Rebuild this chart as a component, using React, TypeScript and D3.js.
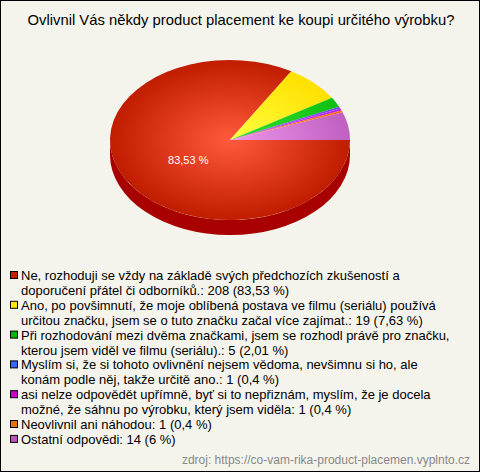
import React from "react";
import * as d3 from "d3";

const W = 480;
const H = 472;

const title = "Ovlivnil Vás někdy product placement ke koupi určitého výrobku?";
const source = "zdroj: https://co-vam-rika-product-placemen.vyplnto.cz";

const counts = [208, 19, 5, 1, 1, 1, 14];
const pctLabels = ["83,53 %", "7,63 %", "2,01 %", "0,4 %", "0,4 %", "0,4 %", "6 %"];
const legendLines: string[][] = [
  ["Ne, rozhoduji se vždy na základě svých předchozích zkušeností a", "doporučení přátel či odborníků.: 208 (83,53 %)"],
  ["Ano, po povšimnutí, že moje oblíbená postava ve filmu (seriálu) používá", "určitou značku, jsem se o tuto značku začal více zajímat.: 19 (7,63 %)"],
  ["Při rozhodování mezi dvěma značkami, jsem se rozhodl právě pro značku,", "kterou jsem viděl ve filmu (seriálu).: 5 (2,01 %)"],
  ["Myslím si, že si tohoto ovlivnění nejsem vědoma, nevšimnu si ho, ale", "konám podle něj, takže určitě ano.: 1 (0,4 %)"],
  ["asi nelze odpovědět upřímně, byť si to nepřiznám, myslím, že je docela", "možné, že sáhnu po výrobku, který jsem viděla: 1 (0,4 %)"],
  ["Neovlivnil ani náhodou: 1 (0,4 %)"],
  ["Ostatní odpovědi: 14 (6 %)"],
];
const legendColors = ["#c42000", "#ffe800", "#00b800", "#3a66ff", "#cc00cc", "#e87400", "#bb55bb"];
const sliceInner = ["#ff5a3c", "#ffff40", "#33e033", "#9966ff", "#dd44ff", "#ff8a20", "#ec96ec"];
const sliceOuter = ["#c01c00", "#ffe000", "#10c010", "#7744ee", "#bb22ee", "#ff6a00", "#c060c0"];

export default function App() {
  const cx = 230, cy = 140, rx = 120, ry = 80, depth = 15;
  const pie = d3.pie<number>().sort(null).startAngle(Math.PI / 2).endAngle(Math.PI / 2 + 2 * Math.PI);
  const arcs = pie(counts);
  const px = (a: number) => cx + rx * Math.sin(a);
  const py = (a: number) => cy - ry * Math.cos(a);

  const slicePath = (s: number, e: number) => {
    const large = e - s > Math.PI ? 1 : 0;
    return `M${cx},${cy}L${px(s)},${py(s)}A${rx},${ry} 0 ${large} 1 ${px(e)},${py(e)}Z`;
  };

  const sidePath = `M${cx + rx},${cy}A${rx},${ry} 0 0 1 ${cx - rx},${cy}L${cx - rx},${cy + depth}A${rx},${ry} 0 0 0 ${cx + rx},${cy + depth}Z`;

  const red = arcs[0];
  const mid = (red.startAngle + red.endAngle) / 2;
  const lf = 0.4;
  const lx = cx + rx * lf * Math.sin(mid);
  const ly = cy - ry * lf * Math.cos(mid);

  const lineH = 14.9;
  let lineIdx = 0;
  const legendY0 = 280;

  return (
    <svg width={W} height={H} style={{ position: "absolute", left: 0, top: 0 }} fontFamily="'Liberation Sans', Arial, sans-serif">
      <defs>
        {arcs.map((a, i) => (
          <radialGradient key={i} id={`g${i}`} gradientUnits="userSpaceOnUse" cx={0} cy={0} r={rx}
            gradientTransform={`translate(${cx},${cy}) scale(1,${ry / rx})`}>
            <stop offset="0" stopColor={sliceInner[i]} />
            <stop offset="1" stopColor={sliceOuter[i]} />
          </radialGradient>
        ))}
      </defs>
      <rect x={0.5} y={0.5} width={W - 1} height={H - 1} fill="#f5f4ec" stroke="#000" />
      <text x={W / 2 + 1} y={25} textAnchor="middle" fontSize={14.8} fill="#000">{title}</text>
      <path d={sidePath} fill="#a80000" />
      {arcs.map((a, i) => (
        <path key={i} d={slicePath(a.startAngle, a.endAngle)} fill={`url(#g${i})`} />
      ))}
      <text x={lx} y={ly + 8} textAnchor="middle" fontSize={11} fill="#fff">{pctLabels[0]}</text>
      {legendLines.map((lines, i) => {
        const y0 = legendY0 + lineIdx * lineH;
        const g = (
          <g key={i}>
            <rect x={10.5} y={y0 - 8.5} width={7} height={7} fill={legendColors[i]} stroke="#000" />
            {lines.map((l, j) => (
              <text key={j} x={21} y={y0 + j * lineH} fontSize={13} fill="#000">{l}</text>
            ))}
          </g>
        );
        lineIdx += lines.length;
        return g;
      })}
      <text x={470} y={464} textAnchor="end" fontSize={12} fill="#888">{source}</text>
    </svg>
  );
}
